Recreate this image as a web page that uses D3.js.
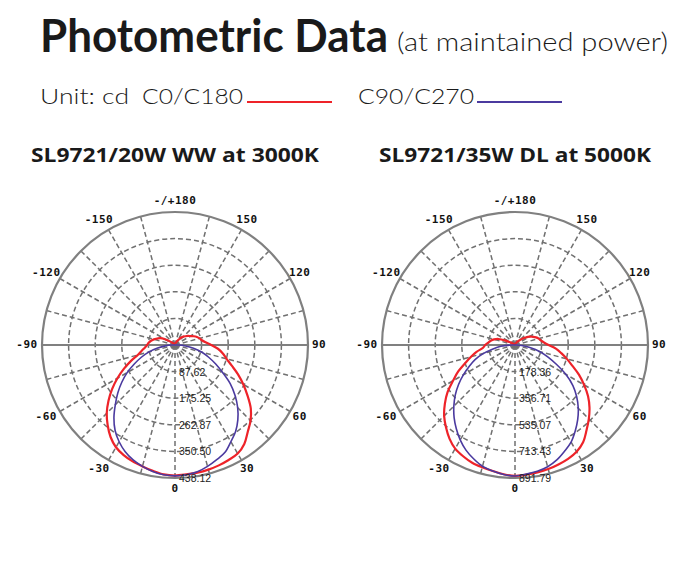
<!DOCTYPE html>
<html>
<head>
<meta charset="utf-8">
<script src="https://cdn.jsdelivr.net/npm/d3@7"></script>
<style>body{margin:0;background:#fff}</style>
</head>
<body>
<div id="chart"></div>
<script>
// gamma angles (deg) for every series below
const gamma = [0,5,10,15,20,25,30,35,40,45,50,55,60,65,70,75,80,85,90,95,100,105,110,115,120,125,130,135,140,145,150,155,160,165,170,175,180];

// SL9721/20W WW, cd
const wwC0   = [430,428,427,425,422,418,413,398,373,352,326,292,260,229,199,176,160,142,119,101,90,84,77,68,59,52,45,39,32,22,16,11,8,6,5,5,4];
const wwC180 = [432,428,421,414,408,400,389,370,345,318,286,253,219,186,155,127,112,100,92,87,80,72,62,53,38,22,12,9,7,6,5,5,5,4,4,4,4];
const wwC90  = [431,429,424,414,402,390,368,348,322,292,258,222,181,148,118,92,62,35,10,0];
const wwC270 = [433,429,423,414,403,388,368,344,313,278,246,214,182,148,118,90,58,32,10,0];

// SL9721/35W DL, cd
const dlC0   = [878,873,867,861,852,842,826,796,746,700,652,598,535,474,410,360,315,275,225,195,176,165,150,130,112,88,68,47,35,25,18,13,10,8,7,6,6];
const dlC180 = [883,870,858,849,840,823,802,766,720,672,614,552,480,420,356,305,262,215,200,180,165,145,118,70,32,18,12,10,8,7,7,6,6,6,6,6,6];
const dlC90  = [878,869,860,845,820,786,752,704,654,600,540,474,393,306,236,173,106,45,12,0];
const dlC270 = [883,872,858,842,812,778,735,686,635,580,523,462,400,338,285,218,150,95,20,0];

const wwMax = 438.12;
const dlMax = 891.79;
const wwRings = ["87.62","175.25","262.87","350.50","438.12"];
const dlRings = ["178.36","356.71","535.07","713.43","891.79"];

const labelAngles = [180,150,120,90,60,30,0,-30,-60,-90,-120,-150];
const labelTexts = ["-/+180","150","120","90","60","30","0","-30","-60","-90","-120","-150"];
const spokeAngles = [-165,-150,-135,-120,-105,-75,-60,-45,-30,-15,0,15,30,45,60,75,105,120,135,150,165];

const red = "#ee2329";
const blue = "#4b3a9f";
const grid = "#707070";

const svg = d3.select("#chart").append("svg")
  .attr("width", 700)
  .attr("height", 580);

// header
svg.append("text")
  .attr("x", 40).attr("y", 52)
  .attr("font-family", "Lato, 'DejaVu Sans', sans-serif")
  .attr("font-weight", "bold")
  .attr("font-size", 45)
  .attr("fill", "#1a1a1a")
  .attr("textLength", 348).attr("lengthAdjust", "spacingAndGlyphs")
  .text("Photometric Data");

svg.append("text")
  .attr("x", 397).attr("y", 51)
  .attr("font-family", "Lato, 'DejaVu Sans', sans-serif")
  .attr("font-weight", 300)
  .attr("font-size", 25)
  .attr("fill", "#1a1a1a")
  .attr("textLength", 271).attr("lengthAdjust", "spacingAndGlyphs")
  .text("(at maintained power)");

const legendFont = "Lato, 'DejaVu Sans', sans-serif";
svg.append("text").attr("x", 40).attr("y", 104)
  .attr("font-family", legendFont).attr("font-weight", 300).attr("font-size", 22).attr("fill", "#1a1a1a")
  .attr("textLength", 89).attr("lengthAdjust", "spacingAndGlyphs")
  .text("Unit: cd");
svg.append("text").attr("x", 142).attr("y", 104)
  .attr("font-family", legendFont).attr("font-weight", 300).attr("font-size", 22).attr("fill", "#1a1a1a")
  .attr("textLength", 101).attr("lengthAdjust", "spacingAndGlyphs")
  .text("C0/C180");
svg.append("line").attr("x1", 247).attr("x2", 332).attr("y1", 102).attr("y2", 102)
  .attr("stroke", red).attr("stroke-width", 2.2);
svg.append("text").attr("x", 358).attr("y", 104)
  .attr("font-family", legendFont).attr("font-weight", 300).attr("font-size", 22).attr("fill", "#1a1a1a")
  .attr("textLength", 116).attr("lengthAdjust", "spacingAndGlyphs")
  .text("C90/C270");
svg.append("line").attr("x1", 477).attr("x2", 562).attr("y1", 102).attr("y2", 102)
  .attr("stroke", blue).attr("stroke-width", 2.2);

function polarPlot(cx, cy, title, titleLen, maxVal, rings, c0, c180, c90, c270) {
  const R = 133;
  const toRad = d => d * Math.PI / 180;

  svg.append("text")
    .attr("x", cx).attr("y", 162)
    .attr("text-anchor", "middle")
    .attr("font-family", "'Open Sans', 'DejaVu Sans', sans-serif")
    .attr("font-weight", "bold")
    .attr("font-size", 20)
    .attr("fill", "#1a1a1a")
    .attr("textLength", titleLen).attr("lengthAdjust", "spacingAndGlyphs")
    .text(title);

  const g = svg.append("g").attr("transform", "translate(" + cx + "," + cy + ")");
  const r = d3.scaleLinear().domain([0, maxVal]).range([0, R]);

  // dashed rings (outer one is solid)
  g.selectAll(".ring")
    .data(rings.slice(0, rings.length - 1))
    .enter().append("circle")
    .attr("class", "ring")
    .attr("r", d => r(+d))
    .attr("fill", "none")
    .attr("stroke", grid)
    .attr("stroke-width", 1.5)
    .attr("stroke-dasharray", "5,3");

  // dashed spokes
  g.selectAll(".spoke")
    .data(spokeAngles)
    .enter().append("line")
    .attr("class", "spoke")
    .attr("x1", 0).attr("y1", 0)
    .attr("x2", d => R * Math.sin(toRad(d)))
    .attr("y2", d => R * Math.cos(toRad(d)))
    .attr("stroke", grid)
    .attr("stroke-width", 1.5)
    .attr("stroke-dasharray", "5,3");

  g.append("line")
    .attr("x1", -R).attr("x2", R).attr("y1", 0).attr("y2", 0)
    .attr("stroke", "#808080").attr("stroke-width", 1.8);

  g.append("circle")
    .attr("r", r(maxVal))
    .attr("fill", "none")
    .attr("stroke", "#808080")
    .attr("stroke-width", 2.2);

  // curves: left half from the C180/C270 side, right half from C0/C90
  const line = d3.lineRadial()
    .angle(d => toRad(180 - d[0]))
    .radius(d => r(d[1]))
    .curve(d3.curveCatmullRom.alpha(0.5));

  function halfPair(left, right) {
    const pts = [];
    for (let i = left.length - 1; i > 0; i--) pts.push([-gamma[i], left[i]]);
    for (let i = 0; i < right.length; i++) pts.push([gamma[i], right[i]]);
    return pts;
  }

  g.append("path")
    .attr("d", line(halfPair(c180, c0)))
    .attr("fill", "none")
    .attr("stroke", red)
    .attr("stroke-width", 2.2);

  g.append("path")
    .attr("d", line(halfPair(c270, c90)))
    .attr("fill", "none")
    .attr("stroke", blue)
    .attr("stroke-width", 1.6);

  // ring value labels along the 0 spoke
  g.selectAll(".rl")
    .data(rings)
    .enter().append("text")
    .attr("x", 4)
    .attr("y", d => r(+d))
    .attr("dominant-baseline", "central")
    .attr("font-family", "'Liberation Sans', Arial, sans-serif")
    .attr("font-size", 10.5)
    .attr("fill", "#222")
    .text(d => d);

  // angle labels
  g.selectAll(".al")
    .data(labelAngles)
    .enter().append("text")
    .attr("x", d => 144 * Math.sin(toRad(d)) - (d < 0 ? 4 : 0))
    .attr("y", d => 144 * Math.cos(toRad(d)) - 1)
    .attr("text-anchor", "middle")
    .attr("dominant-baseline", "central")
    .attr("font-family", "'DejaVu Sans Mono', monospace")
    .attr("font-weight", "bold")
    .attr("font-size", 11)
    .attr("letter-spacing", 0.5)
    .attr("fill", "#111")
    .text((d, i) => labelTexts[i]);
}

polarPlot(175, 345, "SL9721/20W WW at 3000K", 288, wwMax, wwRings, wwC0, wwC180, wwC90, wwC270);
polarPlot(515, 345, "SL9721/35W DL at 5000K", 272, dlMax, dlRings, dlC0, dlC180, dlC90, dlC270);
</script>
</body>
</html>
